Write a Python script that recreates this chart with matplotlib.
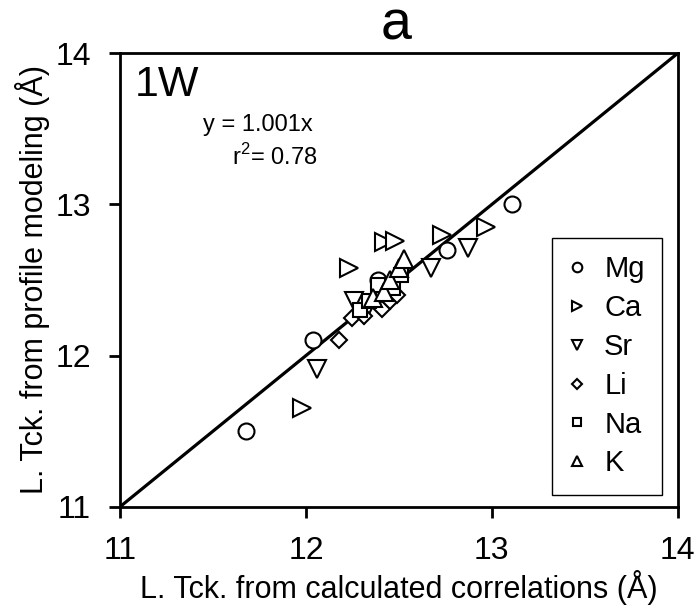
import numpy as np
import matplotlib.pyplot as plt

plt.rcParams['font.family'] = ['Liberation Sans', 'DejaVu Sans']
plt.rcParams['mathtext.fontset'] = 'custom'
plt.rcParams['mathtext.rm'] = 'Liberation Sans'

# values
mg_x = [11.68, 12.04, 12.39, 12.76, 13.11]
mg_y = [11.50, 12.10, 12.50, 12.70, 13.00]
ca_x = [11.98, 12.23, 12.42, 12.48, 12.73, 12.97]
ca_y = [11.65, 12.58, 12.75, 12.76, 12.80, 12.85]
sr_x = [12.06, 12.26, 12.31, 12.67, 12.87]
sr_y = [11.91, 12.36, 12.27, 12.58, 12.71]
li_x = [12.18, 12.25, 12.31, 12.41, 12.45, 12.49]
li_y = [12.10, 12.25, 12.26, 12.31, 12.36, 12.40]
na_x = [12.29, 12.34, 12.39, 12.47, 12.51]
na_y = [12.30, 12.36, 12.47, 12.45, 12.53]
k_x = [12.36, 12.42, 12.45, 12.50, 12.53]
k_y = [12.38, 12.42, 12.50, 12.58, 12.64]

series = [
    ('Mg', mg_x, mg_y, 'o'),
    ('Ca', ca_x, ca_y, '>'),
    ('Sr', sr_x, sr_y, 'v'),
    ('Li', li_x, li_y, 'D'),
    ('Na', na_x, na_y, 's'),
    ('K', k_x, k_y, '^'),
]
sizes = {'o': 11.5, '>': 13, 'v': 13, 'D': 8.5, 's': 10.5, '^': 13}

fig = plt.figure(figsize=(6.98, 6.12), dpi=100)
ax = fig.add_axes([0.172, 0.172, 0.799, 0.741])

# 1:1 line
ax.plot([11, 14], [11, 14], color='black', lw=2.3, zorder=1)

for name, xs, ys, m in series:
    ax.plot(xs, ys, ls='none', marker=m, ms=sizes[m], mfc='white',
            mec='black', mew=1.5, label=name, zorder=3)

ax.set_xlim(11, 14)
ax.set_ylim(11, 14)
ax.set_xticks([11, 12, 13, 14])
ax.set_yticks([11, 12, 13, 14])
ax.tick_params(direction='out', length=8, width=2, labelsize=23, pad=13)
for s in ax.spines.values():
    s.set_linewidth(2)

ax.set_xlabel('L. Tck. from calculated correlations (Å)', fontsize=22, labelpad=3)
ax.set_ylabel('L. Tck. from profile modeling (Å)', fontsize=22, labelpad=4)

ax.text(0.027, 0.975, '1W', transform=ax.transAxes, fontsize=31,
        ha='left', va='top')
ax.text(0.247, 0.841, 'y = 1.001x', transform=ax.transAxes, fontsize=17,
        ha='center', va='center')
ax.text(0.278, 0.771, 'r$^2$= 0.78', transform=ax.transAxes, fontsize=17,
        ha='center', va='center')

fig.text(0.567, 0.935, 'a', fontsize=40, ha='center', va='baseline')

leg = ax.legend(loc='lower right', fontsize=21, markerscale=0.6,
                fancybox=False, framealpha=1, edgecolor='black',
                handlelength=0.5, handletextpad=0.69, labelspacing=0.37,
                borderpad=0.6, borderaxespad=0, bbox_to_anchor=(0.972, 0.026))
leg.get_frame().set_linewidth(1.0)

fig.savefig('out.png', dpi=100)
